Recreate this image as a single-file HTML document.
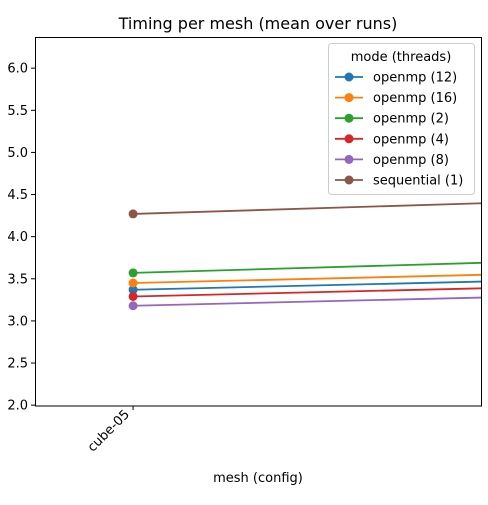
<!DOCTYPE html>
<html><head><meta charset="utf-8"><style>
body{margin:0;background:#fff;font-family:"Liberation Sans","DejaVu Sans",sans-serif}
svg text{font-family:"DejaVu Sans","Liberation Sans",sans-serif}
</style></head><body>
<svg id="chart" width="488" height="500" xmlns="http://www.w3.org/2000/svg">
<defs><clipPath id="clip"><rect x="35" y="37" width="447" height="369"/></clipPath></defs>
<rect width="488" height="500" fill="#fff"/>
<text x="258" y="29" font-size="16" text-anchor="middle">Timing per mesh (mean over runs)</text>
<g id="yaxis"></g>
<g id="xaxis"></g>
<g id="series" clip-path="url(#clip)"></g>
<rect x="35.5" y="37.5" width="446" height="368.5" fill="none" stroke="#000" stroke-width="1"/>
<text x="258" y="482" font-size="13" text-anchor="middle">mesh (config)</text>
<g id="legend"></g>
</svg>
<script>
const categories=["cube-05","cube-06"];
const seriesNames=["openmp (12)","openmp (16)","openmp (2)","openmp (4)","openmp (8)","sequential (1)"];
const colors=["#1f77b4","#ff7f0e","#2ca02c","#d62728","#9467bd","#8c564b"];
const s12=[3.37,3.50];
const s16=[3.45,3.58];
const s2=[3.57,3.73];
const s4=[3.29,3.42];
const s8=[3.18,3.31];
const s1=[4.27,4.44];
const yTicks=[2.0,2.5,3.0,3.5,4.0,4.5,5.0,5.5,6.0];
const seriesVals=[s12,s16,s2,s4,s8,s1];
const NS="http://www.w3.org/2000/svg";
const X0=35,X1=482,Y0=406,Y1=37;
const xMin=-0.21,xMax=0.747,yMin=1.99,yMax=6.37;
const xs=v=>X0+(v-xMin)/(xMax-xMin)*(X1-X0);
const ys=v=>Y0-(v-yMin)/(yMax-yMin)*(Y0-Y1);
function mk(t,a,p){const e=document.createElementNS(NS,t);for(const k in a)e.setAttribute(k,a[k]);p.appendChild(e);return e;}
const ya=document.getElementById('yaxis');
yTicks.forEach(t=>{const y=ys(t);
 const l=mk('line',{x1:31,x2:35,y1:y,y2:y,stroke:'#000'},ya);
 
 
 const tx=mk('text',{x:28,y:y+4.5,'font-size':13,'text-anchor':'end'},ya);tx.textContent=t.toFixed(1);
 
 
});
const xa=document.getElementById('xaxis');
categories.forEach((c,i)=>{const x=xs(i);
 const l=mk('line',{x1:x,x2:x,y1:406,y2:410,stroke:'#000'},xa);
 
 
 const ax=x-3, ay=415;
 const tx=mk('text',{x:ax,y:ay,'font-size':13,'text-anchor':'end',transform:`rotate(-45 ${ax} ${ay})`},xa);tx.textContent=c;
 
 
});
const sg=document.getElementById('series');
seriesVals.forEach((vals,si)=>{
 const pts=vals.map((v,i)=>xs(i)+','+ys(v)).join(' ');
 const pl=mk('polyline',{points:pts,fill:'none',stroke:colors[si],'stroke-width':1.8},sg);
 
 
 vals.forEach((v,i)=>{const c=mk('circle',{cx:xs(i),cy:ys(v),r:4.5,fill:colors[si]},sg);
  
  });
});
const lg=document.getElementById('legend');
const box=mk('rect',{x:328.5,y:43.5,width:146,height:151,rx:3,fill:'#fff','fill-opacity':0.85,stroke:'#ccc'},lg);


const lt=mk('text',{x:401,y:61,'font-size':13,'text-anchor':'middle'},lg);lt.textContent='mode (threads)';


seriesNames.forEach((n,i)=>{const y=77+i*20.6;
 const g=mk('g',{},lg);
 
 
 mk('line',{x1:335,x2:363,y1:y,y2:y,stroke:colors[i],'stroke-width':1.8},g);
 mk('circle',{cx:349,cy:y,r:4.5,fill:colors[i]},g);
 const t=mk('text',{x:373,y:y+4.5,'font-size':13},g);t.textContent=n;
});
</script>
</body></html>
